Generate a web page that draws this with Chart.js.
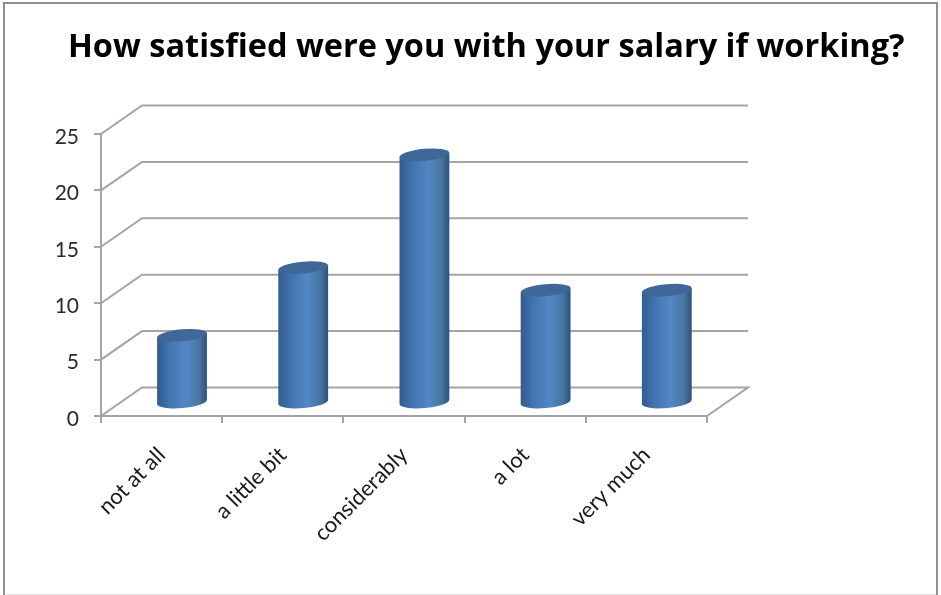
<!DOCTYPE html>
<html>
<head>
<meta charset="utf-8">
<title>How satisfied were you with your salary if working?</title>
<script src="https://cdn.jsdelivr.net/npm/chart.js@4"></script>
<style>
  html, body { margin: 0; padding: 0; background: #fff; }
  canvas { display: block; }
</style>
</head>
<body>
<canvas id="myChart" width="941" height="595"></canvas>
<script>
const categories = ['not at all', 'a little bit', 'considerably', 'a lot', 'very much'];
const values = [6, 12, 22, 10, 10];
const chartTitle = 'How satisfied were you with your salary if working?';

const lineColor = '#a4a4a4';
// depth of the fake 3d box, in pixels
const wallDx = 41, wallDy = -28.5;
const barDx = 20.4, barDy = -13;

const box3d = {
  id: 'box3d',
  afterLayout(chart) {
    // title starts further right than the axis box
    chart.titleBlock.left = 68;
    chart.titleBlock.right = 941;
    // y labels sit a little under their ticks in the original
    chart.scales.y.getLabelItems().forEach(item => {
      item.options.translation[1] += 3;
    });
  },
  beforeDraw(chart) {
    const c = chart.ctx;
    c.save();
    c.strokeStyle = '#e2e2e2';
    c.lineWidth = 1;
    c.beginPath();
    c.moveTo(4, 594.5);
    c.lineTo(937, 594.5);
    c.stroke();
    c.strokeStyle = '#8e8e8e';
    c.lineWidth = 2;
    c.beginPath();
    c.moveTo(4, 595);
    c.lineTo(4, 3);
    c.lineTo(937, 3);
    c.lineTo(937, 595);
    c.stroke();
    c.restore();
  },
  beforeDatasetsDraw(chart) {
    const c = chart.ctx;
    const { left, right } = chart.chartArea;
    const y = chart.scales.y;
    c.save();
    c.strokeStyle = lineColor;
    c.lineWidth = 2;
    y.ticks.forEach(t => {
      const py = y.getPixelForValue(t.value);
      c.beginPath();
      c.moveTo(left, py);
      c.lineTo(left + wallDx, py + wallDy);
      c.lineTo(right + wallDx, py + wallDy);
      if (t.value === 0) c.lineTo(right, py);
      c.stroke();
    });
    c.restore();
  },
  afterDatasetsDraw(chart) {
    const c = chart.ctx;
    chart.getDatasetMeta(0).data.forEach(bar => {
      const cx = bar.x + barDx;
      const top = bar.y + barDy;
      const bottom = bar.base + barDy;
      const rx = bar.width / 2, ry = 6, rot = -0.09;
      const sx = Math.cos(rot) * rx, sy = Math.sin(rot) * rx;

      const g = c.createLinearGradient(cx - rx, 0, cx + rx, 0);
      g.addColorStop(0, '#2f5c92');
      g.addColorStop(0.25, '#4274ae');
      g.addColorStop(0.58, '#5287c6');
      g.addColorStop(0.84, '#48769f');
      g.addColorStop(1, '#2e4f7a');

      c.save();
      c.fillStyle = g;
      c.beginPath();
      c.moveTo(cx - sx, top - sy);
      c.lineTo(cx - sx, bottom - sy);
      c.ellipse(cx, bottom, rx, ry, rot, Math.PI, 0, true);
      c.lineTo(cx + sx, top + sy);
      c.closePath();
      c.fill();

      c.fillStyle = '#3f6899';
      c.beginPath();
      c.ellipse(cx, top, rx, ry, rot, 0, Math.PI * 2);
      c.fill();
      c.restore();
    });
  },
};

new Chart(document.getElementById('myChart').getContext('2d'), {
  type: 'bar',
  data: {
    labels: categories,
    datasets: [
      {
        label: '',
        data: values,
        backgroundColor: 'rgba(0,0,0,0)',
        barPercentage: 0.4125,
        categoryPercentage: 1,
      },
    ],
  },
  options: {
    responsive: false,
    animation: false,
    layout: { padding: { left: 40, right: 234, top: 0, bottom: 0 } },
    scales: {
      x: {
        afterFit: s => { s.height = 179; },
        border: { color: lineColor, width: 2 },
        grid: { drawOnChartArea: false, color: lineColor, lineWidth: 2, tickLength: 7 },
        ticks: {
          autoSkip: false,
          minRotation: 45,
          maxRotation: 45,
          padding: 19,
          color: '#1a1a1a',
          font: { family: 'Lato', size: 22 },
        },
      },
      y: {
        min: 0,
        max: 25,
        afterFit: s => { s.width = 61; },
        border: { color: lineColor, width: 2 },
        grid: { drawOnChartArea: false, color: lineColor, lineWidth: 2, tickLength: 7 },
        ticks: {
          stepSize: 5,
          padding: 15,
          color: '#2a2a2a',
          font: { family: 'Lato', size: 21 },
        },
      },
    },
    plugins: {
      legend: { display: false },
      tooltip: { enabled: false },
      title: {
        display: true,
        text: chartTitle,
        align: 'start',
        color: '#000',
        font: { family: '"Open Sans"', size: 32.5, weight: 'bold', lineHeight: 1.2 },
        padding: { top: 28, bottom: 67 },
      },
    },
  },
  plugins: [box3d],
});
</script>
</body>
</html>
